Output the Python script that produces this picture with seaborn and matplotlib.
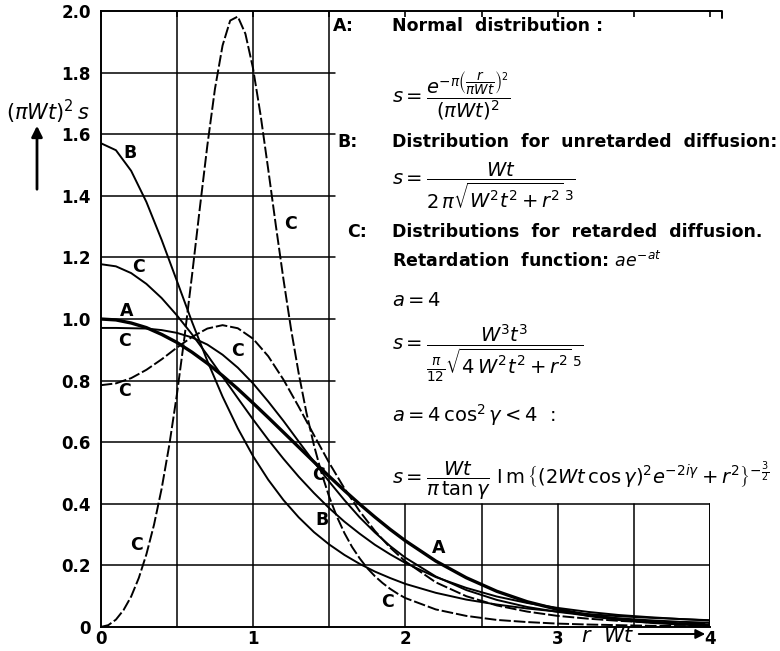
import numpy as np
import pandas as pd
import matplotlib
matplotlib.use("Agg")
import matplotlib.pyplot as plt
import seaborn as sns

# ---------------- data ----------------
x_coarse = [0.0, 0.1, 0.2, 0.3, 0.4, 0.5, 0.6, 0.7, 0.8, 0.9, 1.0, 1.1, 1.2, 1.3, 1.4, 1.5,
            1.6, 1.7, 1.8, 1.9, 2.0, 2.2, 2.4, 2.6, 2.8, 3.0, 3.2, 3.4, 3.6, 3.8, 4.0]
x_fine = [0.0, 0.05, 0.1, 0.15, 0.2, 0.25, 0.3, 0.35, 0.4, 0.45, 0.5, 0.55, 0.6, 0.65, 0.7,
          0.75, 0.8, 0.85, 0.9, 0.95, 1.0, 1.05, 1.1, 1.15, 1.2, 1.25, 1.3, 1.35, 1.4, 1.45,
          1.5, 1.55, 1.6, 1.65, 1.7, 1.75, 1.8, 1.85, 1.9, 1.95, 2.0, 2.2, 2.4, 2.6, 2.8,
          3.0, 3.2, 3.4, 3.6, 3.8, 4.0]

# A: normal distribution
curve_A = [1.000, 0.997, 0.987, 0.972, 0.950, 0.924, 0.892, 0.856, 0.816, 0.773, 0.727,
           0.680, 0.632, 0.584, 0.536, 0.489, 0.443, 0.399, 0.357, 0.317, 0.280, 0.214,
           0.160, 0.116, 0.082, 0.057, 0.038, 0.025, 0.016, 0.010, 0.006]
# B: unretarded diffusion
curve_B = [1.571, 1.548, 1.481, 1.380, 1.257, 1.124, 0.990, 0.864, 0.748, 0.645, 0.555,
           0.478, 0.412, 0.356, 0.308, 0.268, 0.234, 0.205, 0.180, 0.159, 0.140, 0.111,
           0.089, 0.073, 0.060, 0.050, 0.042, 0.035, 0.030, 0.026, 0.022]
# C: retarded diffusion, a = 4
curve_C_a4 = [1.178, 1.171, 1.149, 1.114, 1.068, 1.012, 0.950, 0.883, 0.813, 0.743, 0.674,
              0.608, 0.546, 0.488, 0.435, 0.386, 0.342, 0.303, 0.267, 0.236, 0.208, 0.162,
              0.127, 0.099, 0.078, 0.062, 0.049, 0.039, 0.032, 0.026, 0.021]
# C: retarded diffusion, a < 4 (solid, starts at 0.97)
curve_C_097 = [0.971, 0.971, 0.970, 0.969, 0.964, 0.955, 0.940, 0.917, 0.884, 0.842, 0.791,
               0.732, 0.669, 0.602, 0.536, 0.472, 0.412, 0.356, 0.307, 0.263, 0.225, 0.164,
               0.120, 0.088, 0.065, 0.049, 0.037, 0.028, 0.022, 0.017, 0.014]
# C: retarded diffusion, a < 4 (dashed, starts at 0.79)
curve_C_079 = [0.785, 0.791, 0.808, 0.835, 0.869, 0.907, 0.942, 0.969, 0.980, 0.970, 0.936,
               0.879, 0.803, 0.715, 0.623, 0.533, 0.450, 0.376, 0.312, 0.258, 0.213, 0.145,
               0.100, 0.070, 0.050, 0.036, 0.027, 0.020, 0.015, 0.012, 0.009]
# C: retarded diffusion, a < 4 (dashed, starts at 0, peak ~1.98)
curve_C_000 = [0.000, 0.006, 0.024, 0.055, 0.099, 0.159, 0.236, 0.332, 0.449, 0.590, 0.754,
               0.941, 1.144, 1.357, 1.563, 1.747, 1.888, 1.969, 1.982, 1.926, 1.814, 1.661,
               1.485, 1.303, 1.128, 0.966, 0.823, 0.697, 0.590, 0.499, 0.423, 0.359, 0.305,
               0.260, 0.223, 0.191, 0.165, 0.143, 0.124, 0.108, 0.094, 0.057, 0.036, 0.023,
               0.016, 0.011, 0.008, 0.006, 0.004, 0.003, 0.002]

y_ticks = [0, 0.2, 0.4, 0.6, 0.8, 1.0, 1.2, 1.4, 1.6, 1.8, 2.0]
y_tick_labels = ["0", "0.2", "0.4", "0.6", "0.8", "1.0", "1.2", "1.4", "1.6", "1.8", "2.0"]
x_ticks = [0, 1, 2, 3, 4]
x_tick_labels = ["0", "1", "2", "3", "4"]

# curve labels: (text, x, y)
curve_labels = [("B", 0.19, 1.54), ("C", 0.25, 1.17), ("A", 0.17, 1.025), ("C", 0.155, 0.93),
                ("C", 0.155, 0.765), ("C", 0.90, 0.895), ("C", 1.245, 1.31), ("C", 1.43, 0.495),
                ("B", 1.455, 0.347), ("C", 0.235, 0.266), ("C", 1.88, 0.082), ("A", 2.22, 0.255)]

# ---------------- styling ----------------
sns.set_theme(style="white")
plt.rcParams["font.family"] = ["DejaVu Sans"]
plt.rcParams["mathtext.fontset"] = "dejavusans"
for k in ["text.color", "axes.labelcolor", "xtick.color", "ytick.color", "axes.edgecolor"]:
    plt.rcParams[k] = "black"

W, H = 780, 651
fig = plt.figure(figsize=(W / 100, H / 100), dpi=100)
ax = fig.add_axes([100.7 / W, 1 - 627 / H, (710 - 100.7) / W, (627 - 11) / H])
ax.set_xlim(0, 4)
ax.set_ylim(0, 2)

# grid: partly hidden behind the text panel
glw = 1.1
for gx in [0.5, 1.0, 1.5]:
    ax.axvline(gx, color="black", lw=glw, zorder=1)
for gx in [2.0, 2.5, 3.0, 3.5]:
    ax.axvline(gx, ymax=0.2, color="black", lw=glw, zorder=1)
for gy in [0.2, 0.4]:
    ax.axhline(gy, color="black", lw=glw, zorder=1)
for gy in [0.6, 0.8, 1.0, 1.2, 1.4, 1.6, 1.8]:
    ax.axhline(gy, xmax=1.54 / 4, color="black", lw=glw, zorder=1)
ax.axvline(4.0, ymax=0.2, color="black", lw=1.4, zorder=1)

# curves
solid = "-"
dashed = (0, (6, 1.5))
series = [
    (x_coarse, curve_A, 2.4, solid),
    (x_coarse, curve_B, 1.4, solid),
    (x_coarse, curve_C_a4, 1.4, solid),
    (x_coarse, curve_C_097, 1.4, solid),
    (x_coarse, curve_C_079, 1.4, dashed),
    (x_fine, curve_C_000, 1.4, dashed),
]
for xs, ys, lw, ls in series:
    df = pd.DataFrame({"x": xs, "y": ys})
    sns.lineplot(data=df, x="x", y="y", ax=ax, color="black", lw=lw, linestyle=ls,
                 sort=False, estimator=None, zorder=3)

for t, lx, ly in curve_labels:
    ax.text(lx, ly, t, fontsize=12.5, fontweight="bold", ha="center", va="center", zorder=4)

# spines & ticks
for side in ["left", "bottom", "top"]:
    ax.spines[side].set_color("black")
    ax.spines[side].set_linewidth(1.4)
ax.spines["right"].set_visible(False)
ax.set_xticks(x_ticks)
ax.set_xticklabels(x_tick_labels, fontsize=12, fontweight="bold")
ax.set_xticks([0.5, 1.5, 2.5, 3.5], minor=True)
ax.set_yticks(y_ticks)
ax.set_yticklabels(y_tick_labels, fontsize=12, fontweight="bold")
ax.tick_params(axis="y", length=0, pad=7, colors="black")
ax.tick_params(axis="x", which="both", bottom=False, top=True, direction="in",
               length=4, width=1.2, pad=2, colors="black")
ax.set_xlabel("")
ax.set_ylabel("")

# y-axis label with arrow
def fx(px):
    return px / W

def fy(py):
    return 1 - py / H

fig.text(fx(48), fy(112), r"$(\pi Wt)^2\,s$", fontsize=15, ha="center", va="center")
ax.annotate("", xy=(fx(37), fy(123)), xytext=(fx(37), fy(192)), xycoords="figure fraction",
            textcoords="figure fraction",
            arrowprops=dict(arrowstyle="-|>", lw=2, color="black", mutation_scale=16))

# x-axis label with arrow
fig.text(fx(581), fy(636), r"$r\ \ Wt$", fontsize=15, ha="left", va="center")
ax.annotate("", xy=(fx(708), fy(634)), xytext=(fx(636), fy(634)), xycoords="figure fraction",
            textcoords="figure fraction",
            arrowprops=dict(arrowstyle="-|>", lw=1.4, color="black", mutation_scale=14))

# small corner hook of the text panel frame
fig.add_artist(plt.Line2D([fx(708), fx(722), fx(722)], [fy(11), fy(11), fy(18)],
                          color="black", lw=1.4))

# text panel
bold = dict(fontsize=12.5, fontweight="bold", ha="left", va="center")
fig.text(fx(333), fy(26), "A:", **bold)
fig.text(fx(392), fy(26), "Normal  distribution :", **bold)
fig.text(fx(392), fy(102), r"$s=\dfrac{e^{-\pi\left(\dfrac{r}{\pi W t}\right)^2}}{(\pi W t)^2}$",
         fontsize=14, ha="left", va="baseline")
fig.text(fx(337), fy(142), "B:", **bold)
fig.text(fx(392), fy(142), "Distribution  for  unretarded  diffusion:", **bold)
fig.text(fx(392), fy(185), r"$s=\dfrac{Wt}{2\,\pi\sqrt{W^2t^2+r^2}^{\,3}}$",
         fontsize=14, ha="left", va="baseline")
fig.text(fx(347), fy(232), "C:", **bold)
fig.text(fx(392), fy(232), "Distributions  for  retarded  diffusion.", **bold)
fig.text(fx(392), fy(261), r"Retardation  function: $ae^{-at}$", **bold)
fig.text(fx(392), fy(300), r"$a=4$", fontsize=14, ha="left", va="center")
fig.text(fx(392), fy(350), r"$s=\dfrac{W^3t^3}{\frac{\pi}{12}\sqrt{4\,W^2t^2+r^2}^{\,5}}$",
         fontsize=14, ha="left", va="baseline")
fig.text(fx(392), fy(415), r"$a=4\,\cos^2\gamma<4$  :", fontsize=14, ha="left", va="center")
fig.text(fx(392), fy(484),
         r"$s=\dfrac{Wt}{\pi\,\tan\gamma}\ \mathrm{I\,m}\,\left\{(2Wt\,\cos\gamma)^2e^{-2i\gamma}+r^2\right\}^{-\frac{3}{2}}$",
         fontsize=14, ha="left", va="baseline")

fig.savefig("out.png", dpi=100)
